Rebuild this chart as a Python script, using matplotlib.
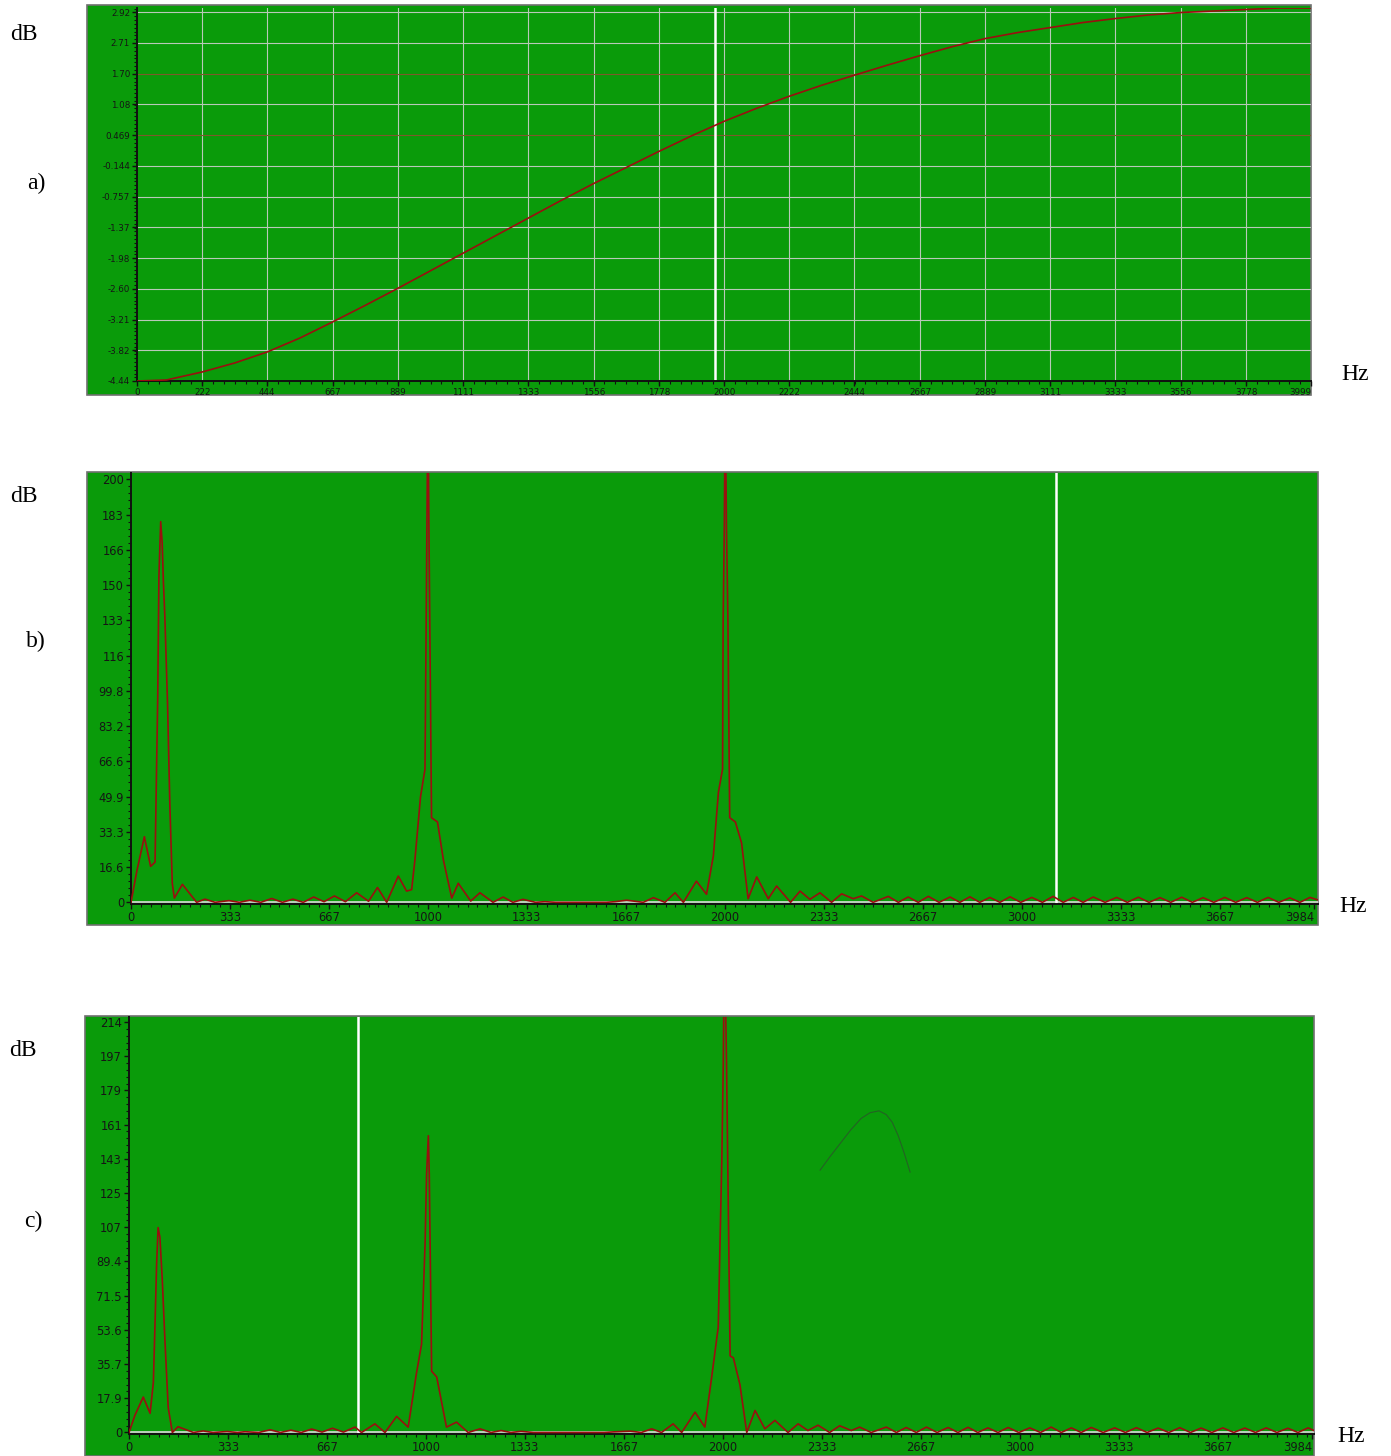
import numpy as np
import matplotlib

matplotlib.use("Agg")
import matplotlib.pyplot as plt
from matplotlib.patches import Rectangle
from matplotlib.ticker import MultipleLocator

W, H = 1391, 1456
GREEN = "#0a9b0a"
TRACE = "#9a0f0f"

# a) frequency response
FREQ_A = [0, 100, 222, 333, 444, 556, 667, 778, 889, 1000, 1111, 1222, 1333, 1444,
          1556, 1667, 1778, 1889, 2000, 2111, 2222, 2333, 2444, 2556, 2667, 2778,
          2889, 3000, 3111, 3222, 3333, 3444, 3556, 3667, 3778, 3889, 3999]
DB_A = [-4.44, -4.42, -4.26, -4.08, -3.86, -3.58, -3.26, -2.93, -2.59, -2.24, -1.89,
        -1.54, -1.19, -0.84, -0.50, -0.18, 0.14, 0.45, 0.74, 1.00, 1.24, 1.46, 1.66,
        1.86, 2.05, 2.23, 2.39, 2.51, 2.61, 2.71, 2.79, 2.86, 2.91, 2.94, 2.97, 3.00, 3.00]
A_XLABELS = ["0", "222", "444", "667", "889", "1111", "1333", "1556", "1778", "2000",
             "2222", "2444", "2667", "2889", "3111", "3333", "3556", "3778", "3999"]
A_YLABELS = ["-4.44", "-3.82", "-3.21", "-2.60", "-1.98", "-1.37", "-0.757", "-0.144",
             "0.469", "1.08", "1.70", "2.71", "2.92"]
A_CURSOR = 1969

# b) spectrum of the input signal
FREQ_B = [0, 20, 45, 66, 81, 84, 90, 94, 100, 105, 109, 114, 123, 131, 139, 146, 173,
          221, 249, 283, 330, 365, 400, 437, 474, 510, 545, 580, 615, 650, 685, 722,
          760, 800, 830, 861, 900, 928, 945, 956, 975, 990, 994, 997, 1000, 1003, 1006,
          1012, 1032, 1052, 1080, 1102, 1144, 1175, 1219, 1253, 1286, 1320, 1362, 1394,
          1430, 1600, 1630, 1669, 1725, 1759, 1798, 1832, 1860, 1904, 1938, 1961, 1978,
          1992, 1994, 1998, 2001, 2005, 2010, 2016, 2035, 2056, 2078, 2107, 2146, 2174,
          2221, 2253, 2286, 2320, 2359, 2393, 2432, 2460, 2499, 2550, 2584, 2617, 2651,
          2685, 2721, 2758, 2791, 2825, 2858, 2892, 2926, 2960, 2996, 3033, 3069, 3105,
          3139, 3173, 3206, 3240, 3280, 3319, 3355, 3392, 3428, 3465, 3501, 3538, 3574,
          3610, 3646, 3683, 3720, 3757, 3793, 3829, 3865, 3902, 3936, 3970, 4000]
DB_B = [0, 15, 31, 17, 19, 45, 97, 154, 180, 170, 152, 135, 94, 45, 9, 2, 8.5,
        0, 1.5, 0, 0.8, 0, 1, 0, 1.8, 0, 1.5, 0, 2.5, 0.3, 3, 0.3,
        4.5, 0.5, 7, 0, 12.4, 5.3, 6, 20, 50, 63, 133, 180, 240, 180, 133,
        40, 38, 20, 2, 9, 0.6, 4.5, 0, 2.5, 0, 1.4, 0, 0.3,
        0, 0, 0.3, 1, 0, 2.2, 0, 4.5, 0, 10, 3.8, 22, 52,
        63, 133, 179, 240, 179, 133, 40, 38, 28, 1.7, 12, 1.7, 7.7,
        0, 5.3, 1.4, 4.5, 0, 4, 1.7, 3, 0, 2.8, 0, 2.5, 0,
        2.8, 0, 2.5, 0, 2.6, 0, 2.3, 0, 2.6, 0, 2.3, 0, 2.8,
        0, 2.3, 0, 2.5, 0, 2.3, 0, 2.4, 0, 2.2, 0, 2.4, 0,
        2.2, 0, 2.3, 0, 2.2, 0, 2.3, 0, 2.1, 0, 2.3, 1]
B_YLABELS = ["0", "16.6", "33.3", "49.9", "66.6", "83.2", "99.8", "116", "133", "150",
             "166", "183", "200"]
B_CURSOR = 3114

# c) spectrum after filtering
FREQ_C = [0, 20, 48, 71, 82, 88, 93, 98, 104, 112, 121, 132, 146, 165, 217, 250, 283,
          330, 365, 391, 437, 475, 510, 545, 580, 615, 650, 685, 722, 761, 783, 828,
          862, 901, 940, 968, 985, 997, 1002, 1008, 1011, 1019, 1036, 1069, 1103, 1142,
          1182, 1219, 1253, 1286, 1320, 1362, 1600, 1630, 1688, 1725, 1760, 1793, 1832,
          1861, 1906, 1939, 1962, 1984, 1996, 2001, 2005, 2012, 2016, 2024, 2035, 2057,
          2080, 2108, 2141, 2175, 2219, 2253, 2286, 2320, 2359, 2393, 2432, 2460, 2499,
          2550, 2584, 2617, 2651, 2685, 2721, 2758, 2791, 2825, 2858, 2892, 2926, 2960,
          2996, 3033, 3069, 3105, 3139, 3173, 3206, 3240, 3280, 3319, 3355, 3392, 3428,
          3465, 3501, 3538, 3574, 3610, 3646, 3683, 3720, 3757, 3793, 3829, 3865, 3902,
          3936, 3970, 3990]
DB_C = [0, 9, 18.5, 10, 26, 59, 88, 107, 102, 80, 48, 13, 0, 3, 0, 0.8, 0,
        0.5, 0, 0.4, 0, 1.4, 0, 1.2, 0, 1.8, 0.2, 2.2, 0.2, 2.8, 0, 4.5,
        0, 8.4, 2.8, 31, 46, 99, 135, 155, 135, 32, 29, 2.8, 5.4, 0,
        1.9, 0, 1, 0, 0.6, 0, 0, 0.3, 0.7, 0, 1.9, 0, 4.5,
        0, 10.6, 2.8, 29, 55, 142, 192, 260, 192, 142, 40, 39, 25,
        0, 11.5, 1.9, 6.3, 0, 4.5, 1, 3.8, 0, 3.5, 1, 2.8, 0,
        2.8, 0, 2.6, 0, 2.8, 0, 2.6, 0, 2.7, 0, 2.4, 0, 2.6,
        0, 2.4, 0, 2.8, 0, 2.4, 0, 2.6, 0, 2.4, 0, 2.5, 0,
        2.3, 0, 2.5, 0, 2.3, 0, 2.4, 0, 2.3, 0, 2.4, 0, 2.2,
        0, 2.4, 1]
C_YLABELS = ["0", "17.9", "35.7", "53.6", "71.5", "89.4", "107", "125", "143", "161",
             "179", "197", "214"]
C_CURSOR = 771
ARC_F = [2327, 2360, 2395, 2430, 2465, 2495, 2525, 2550, 2570, 2590, 2610, 2630]
ARC_V = [137, 144, 151, 158, 164, 167, 168, 166, 162, 155, 146, 136]

BC_XLABELS = ["0", "333", "667", "1000", "1333", "1667", "2000", "2333", "2667", "3000",
              "3333", "3667", "3984"]

fig = plt.figure(figsize=(W / 100, H / 100), dpi=100)


def frame(x0, y0, x1, y1):
    fig.patches.append(Rectangle((x0 / W, 1 - y1 / H), (x1 - x0) / W, (y1 - y0) / H,
                                 transform=fig.transFigure, facecolor=GREEN,
                                 edgecolor="#707070", lw=1.2, zorder=-5))


def inner(x0, y0, x1, y1, size):
    ax = fig.add_axes([x0 / W, 1 - y1 / H, (x1 - x0) / W, (y1 - y0) / H])
    ax.set_zorder(2)
    ax.patch.set_alpha(0)
    for s in ("top", "right"):
        ax.spines[s].set_visible(False)
    for s in ("left", "bottom"):
        ax.spines[s].set_linewidth(1.4)
        ax.spines[s].set_color("#111111")
    ax.tick_params(which="major", direction="out", length=3.5, width=1, color="#111111",
                   pad=1.5, labelcolor="#151515", labelsize=size)
    ax.tick_params(which="minor", direction="out", length=2, width=0.8, color="#111111")
    return ax


def side_text(x, y, s):
    fig.text(x / W, 1 - y / H, s, family="Liberation Serif", fontsize=17,
             ha="center", va="center", color="black")


# ---- panel a
frame(87, 5, 1311, 395)
ax = inner(137, 8, 1311, 381, 6.3)
ax.set_xlim(0, 3999)
ax.set_ylim(-4.44, 3.0)
xt = [float(s) for s in A_XLABELS]
yt = np.linspace(-4.44, 2.92, len(A_YLABELS))
ax.set_xticks(xt)
ax.set_xticklabels(A_XLABELS)
ax.get_xticklabels()[-1].set_ha("right")
ax.set_yticks(yt)
ax.set_yticklabels(A_YLABELS)
ax.xaxis.set_minor_locator(MultipleLocator(222.2 / 6))
ax.yaxis.set_minor_locator(MultipleLocator((2.92 + 4.44) / 12 / 8))
for v in xt[1:-1]:
    ax.axvline(v, color="#b9c9b9", lw=0.8, zorder=1)
for i, v in enumerate(yt[1:]):
    c = "#7d5a2c" if A_YLABELS[i + 1] in ("1.70", "0.469") else "#b9c9b9"
    ax.axhline(v, color=c, lw=0.8, zorder=1)
ax.axvline(A_CURSOR, color="white", lw=1.8, zorder=2)
ax.plot(FREQ_A, DB_A, color=TRACE, lw=1.2, zorder=3)

# ---- panel b
frame(87, 472, 1318, 925)
ax = inner(131, 473, 1318, 904, 8.3)
ax.set_xlim(0, 3997)
ax.set_ylim(-0.8, 203)
ax.set_xticks([float(s) for s in BC_XLABELS])
ax.set_xticklabels(BC_XLABELS)
ax.get_xticklabels()[-1].set_ha("right")
ax.set_yticks(np.linspace(0, 200, len(B_YLABELS)))
ax.set_yticklabels(B_YLABELS)
ax.xaxis.set_minor_locator(MultipleLocator(1000 / 30))
ax.yaxis.set_minor_locator(MultipleLocator(200 / 60))
ax.axhline(0, color="#dadada", lw=1.2, zorder=1)
ax.axvline(B_CURSOR, color="white", lw=1.8, zorder=2)
ax.plot(FREQ_B, DB_B, color=TRACE, lw=1.2, zorder=3)

# ---- panel c
frame(85, 1016, 1314, 1456)
ax = inner(129, 1017, 1314, 1434, 8.3)
ax.set_xlim(0, 3990)
ax.set_ylim(-0.8, 217)
ax.set_xticks([float(s) for s in BC_XLABELS])
ax.set_xticklabels(BC_XLABELS)
ax.get_xticklabels()[-1].set_ha("right")
ax.set_yticks(np.linspace(0, 214.4, len(C_YLABELS)))
ax.set_yticklabels(C_YLABELS)
ax.xaxis.set_minor_locator(MultipleLocator(1000 / 30))
ax.yaxis.set_minor_locator(MultipleLocator(214.4 / 60))
ax.axhline(0, color="#dadada", lw=1.2, zorder=1)
ax.axvline(C_CURSOR, color="white", lw=1.8, zorder=2)
ax.plot(ARC_F, ARC_V, color="#246224", lw=0.8, zorder=2)
ax.plot(FREQ_C, DB_C, color=TRACE, lw=1.2, zorder=3)

# axis captions
side_text(24, 35, "dB")
side_text(36, 183, "a)")
side_text(1355, 374, "Hz")
side_text(24, 496, "dB")
side_text(36, 641, "b)")
side_text(1353, 906, "Hz")
side_text(23, 1051, "dB")
side_text(33, 1221, "c)")
side_text(1351, 1437, "Hz")

fig.savefig("out.png", dpi=100)
